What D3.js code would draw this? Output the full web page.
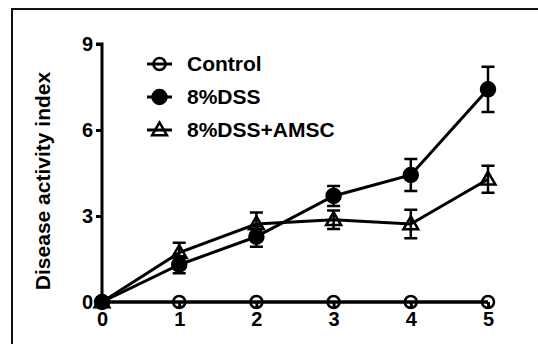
<!DOCTYPE html>
<html>
<head>
<meta charset="utf-8">
<script src="https://cdn.jsdelivr.net/npm/d3@7"></script>
<style>
  body { margin: 0; background: #fff; }
  text { font-family: "Liberation Sans", Arial, sans-serif; font-weight: bold; fill: #000; }
</style>
</head>
<body>
<svg width="538" height="344"></svg>
<script>
// days after DSS
const days = [0, 1, 2, 3, 4, 5];
const yTicks = [0, 3, 6, 9];

const controlMean = [0, 0, 0, 0, 0, 0];
const controlErr = [0, 0, 0, 0, 0, 0];
const dssMean = [0, 1.3, 2.28, 3.7, 4.43, 7.42];
const dssErr = [0, 0.3, 0.35, 0.35, 0.56, 0.79];
const amscMean = [0, 1.72, 2.72, 2.87, 2.72, 4.28];
const amscErr = [0, 0.35, 0.4, 0.32, 0.5, 0.47];

const series = [
  { name: "Control", mean: controlMean, err: controlErr, symbol: "circle-open" },
  { name: "8%DSS", mean: dssMean, err: dssErr, symbol: "circle-filled" },
  { name: "8%DSS+AMSC", mean: amscMean, err: amscErr, symbol: "triangle" }
];

const svg = d3.select("svg");

// outer frame (cut off at right/bottom)
svg.append("rect")
  .attr("x", 12).attr("y", 9)
  .attr("width", 600).attr("height", 400)
  .attr("fill", "none")
  .attr("stroke", "#111")
  .attr("stroke-width", 2);

const x = d3.scaleLinear().domain([0, 5]).range([102, 488]);
const y = d3.scaleLinear().domain([0, 9]).range([302, 44]);

const line = d3.line()
  .x((d, i) => x(days[i]))
  .y(d => y(d));

function drawSymbol(g, type, cx, cy) {
  if (type === "triangle") {
    g.append("path")
      .attr("d", d3.symbol(d3.symbolTriangle, 95)())
      .attr("transform", `translate(${cx},${cy + 1})`)
      .attr("fill", "none")
      .attr("stroke", "#000")
      .attr("stroke-width", 2.5);
  } else {
    g.append("circle")
      .attr("cx", cx).attr("cy", cy)
      .attr("r", type === "circle-filled" ? 7 : 6)
      .attr("fill", type === "circle-filled" ? "#000" : "none")
      .attr("stroke", "#000")
      .attr("stroke-width", 2.5);
  }
}

// axes
const yAxis = svg.append("g")
  .attr("transform", `translate(${x(0)},0)`)
  .call(d3.axisLeft(y).tickValues(yTicks).tickSize(6).tickPadding(3));
yAxis.select(".domain").attr("stroke-width", 3).attr("d", `M-6,${y(9)}H0V${y(0)}`);
yAxis.selectAll(".tick line").attr("stroke-width", 3);
yAxis.selectAll(".tick text").style("font-size", "20px");

// series lines, markers, error bars
const plot = svg.append("g");
series.forEach(s => {
  plot.append("path")
    .datum(s.mean)
    .attr("d", line)
    .attr("fill", "none")
    .attr("stroke", "#000")
    .attr("stroke-width", 3);
});

series.slice().reverse().forEach(s => {
  s.mean.forEach((v, i) => {
    const cx = x(days[i]);
    const g = plot.append("g");
    drawSymbol(g, s.symbol, cx, y(v));
    if (s.err[i] > 0) {
      const top = y(v + s.err[i]);
      const bot = y(v - s.err[i]);
      g.append("path")
        .attr("d", `M${cx},${top}V${bot}M${cx - 6.5},${top}H${cx + 6.5}M${cx - 6.5},${bot}H${cx + 6.5}`)
        .attr("stroke", "#000")
        .attr("stroke-width", 2.5)
        .attr("fill", "none");
    }
  });
});

const xAxis = svg.append("g")
  .attr("transform", `translate(0,${y(0)})`)
  .call(d3.axisBottom(x).tickValues(days).tickSize(6).tickPadding(4).tickFormat(d3.format("d")));
xAxis.select(".domain").attr("stroke-width", 3).attr("d", `M${x(0)},0H${x(5)}`);
xAxis.selectAll(".tick line").attr("stroke-width", 3);
xAxis.selectAll(".tick text").style("font-size", "20px");

// y axis title
svg.append("text")
  .attr("transform", `translate(50,${(y(0) + y(9)) / 2 + 8}) rotate(-90)`)
  .attr("text-anchor", "middle")
  .style("font-size", "21px")
  .text("Disease activity index");

// legend
const legend = svg.append("g");
series.forEach((s, i) => {
  const ly = 64 + i * 33;
  legend.append("line")
    .attr("x1", 147).attr("x2", 172)
    .attr("y1", ly).attr("y2", ly)
    .attr("stroke", "#000").attr("stroke-width", 3);
  drawSymbol(legend, s.symbol, 159.5, ly);
  legend.append("text")
    .attr("x", 187).attr("y", ly)
    .attr("dy", "0.35em")
    .style("font-size", "21px")
    .text(s.name);
});
</script>
</body>
</html>
